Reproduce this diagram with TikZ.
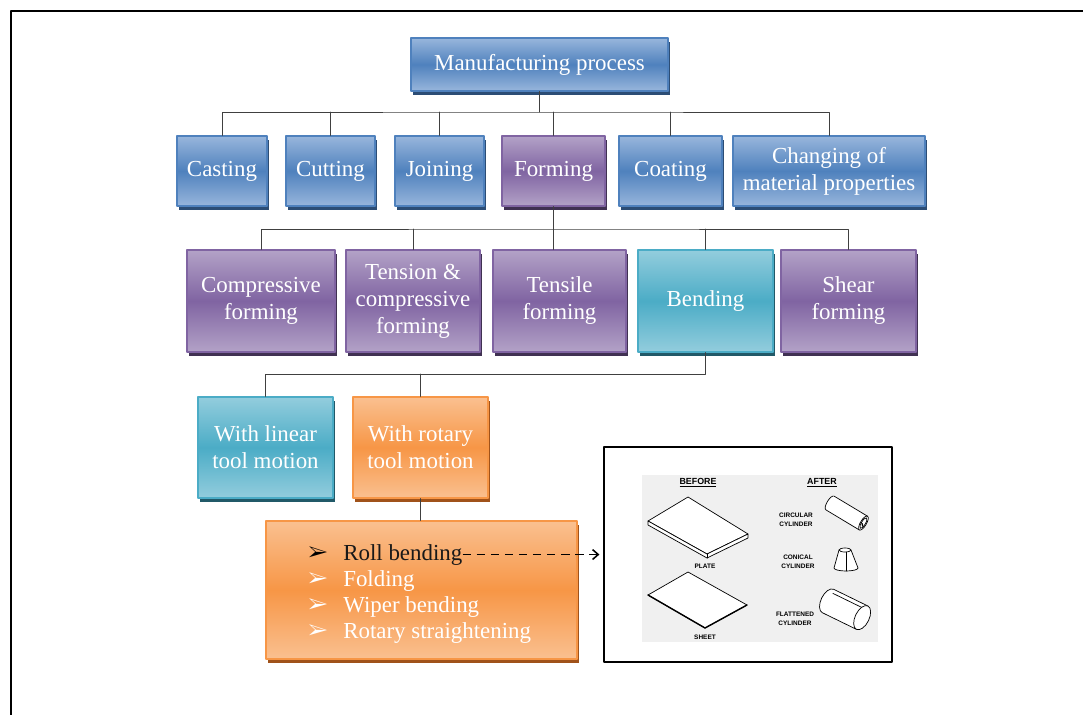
\documentclass[tikz,border=0pt]{standalone}
\usepackage{fontspec}
\setmainfont{Liberation Serif}
\setsansfont{Liberation Sans}
\usepackage{pifont}
\usetikzlibrary{arrows.meta}
\usetikzlibrary{shadows}

\definecolor{bluelt}{HTML}{98B6DC}
\definecolor{bluemd}{HTML}{4F81BD}
\definecolor{bluedk}{HTML}{2C4D75}
\definecolor{purplt}{HTML}{B3A2C7}
\definecolor{purpmd}{HTML}{8064A2}
\definecolor{purpdk}{HTML}{403152}
\definecolor{tealt}{HTML}{93CDDD}
\definecolor{teamd}{HTML}{4BACC6}
\definecolor{teadk}{HTML}{215968}
\definecolor{orglt}{HTML}{FAC090}
\definecolor{orgmd}{HTML}{F79646}
\definecolor{orgdk}{HTML}{A0521A}

\begin{document}
\begin{tikzpicture}[line cap=round,line join=round,x=0.025cm,y=-0.025cm,
  box/.style={rectangle,inner sep=0pt,align=center,text=white,line width=0.8pt,
    font=\fontsize{16.3}{19.2}\selectfont},
  bluebox/.style={box,draw=bluemd,top color=bluelt,bottom color=bluelt,middle color=bluemd,
    drop shadow={shadow xshift=0.05cm,shadow yshift=-0.1cm,opacity=1,fill=bluedk}},
  purpbox/.style={box,draw=purpmd,top color=purplt,bottom color=purplt,middle color=purpmd,
    drop shadow={shadow xshift=0.05cm,shadow yshift=-0.1cm,opacity=1,fill=purpdk}},
  teabox/.style={box,draw=teamd,top color=tealt,bottom color=tealt,middle color=teamd,
    drop shadow={shadow xshift=0.05cm,shadow yshift=-0.1cm,opacity=1,fill=teadk}},
  orgbox/.style={box,draw=orgmd,top color=orglt,bottom color=orglt,middle color=orgmd,
    drop shadow={shadow xshift=0.05cm,shadow yshift=-0.1cm,opacity=1,fill=orgdk}},
  link/.style={line width=0.6pt,color=black!75},
  item/.style={inner sep=0pt,anchor=base west,text=white,font=\fontsize{16.3}{19.2}\selectfont},
  tick/.style={inner sep=0pt,text=white,font=\fontsize{15}{15}\selectfont},
  lbl/.style={inner sep=0pt,align=center,font=\sffamily\bfseries\fontsize{4.6}{6.3}\selectfont},
  head/.style={inner sep=0pt,font=\sffamily\bfseries\fontsize{6.3}{7}\selectfont}]
\useasboundingbox (0,0) rectangle (1083,715);
% frame
\draw [line width=1.4pt,line cap=butt] (11,715) -- (11,11) -- (1083,11);

% top levels
\node [bluebox,minimum width=6.425cm,minimum height=1.325cm] (mp) at (539.5,64.5) {Manufacturing process};
\node [bluebox,minimum width=2.25cm,minimum height=1.75cm] (cast) at (222,171) {Casting};
\node [bluebox,minimum width=2.225cm,minimum height=1.75cm] (cut) at (330.5,171) {Cutting};
\node [bluebox,minimum width=2.225cm,minimum height=1.75cm] (join) at (439.5,171) {Joining};
\node [purpbox,minimum width=2.575cm,minimum height=1.75cm] (form) at (553.5,171) {Forming};
\node [bluebox,minimum width=2.575cm,minimum height=1.75cm] (coat) at (670.5,171) {Coating};
\node [bluebox,minimum width=4.8cm,minimum height=1.75cm] (chg) at (829,171) {Changing of\\material properties};

\node [purpbox,minimum width=3.7cm,minimum height=2.55cm] (comp) at (261,301) {Compressive\\forming};
\node [purpbox,minimum width=3.35cm,minimum height=2.55cm] (tens) at (413,301) {Tension \&\\compressive\\forming};
\node [purpbox,minimum width=3.325cm,minimum height=2.55cm] (tsl) at (559.5,301) {Tensile\\forming};
\node [teabox,minimum width=3.375cm,minimum height=2.55cm] (bend) at (705.5,301) {Bending};
\node [purpbox,minimum width=3.375cm,minimum height=2.55cm] (shear) at (848.5,301) {Shear\\forming};

\node [teabox,minimum width=3.375cm,minimum height=2.525cm] (lin) at (265.5,447.5) {With linear\\tool motion};
\node [orgbox,minimum width=3.375cm,minimum height=2.525cm] (rot) at (420.5,447.5) {With rotary\\tool motion};
\node [orgbox,minimum width=7.775cm,minimum height=3.45cm] (list) at (421.5,590) {};

% list of processes
\node [tick,text=black] (b1) at (318,553) {\ding{226}};
\node [tick] (b2) at (318,579) {\ding{226}};
\node [tick] (b3) at (318,605) {\ding{226}};
\node [tick] (b4) at (318,631) {\ding{226}};
\node [item,text=black!90] (roll) at (343,560) {Roll bending};
\node [item] (fold) at (343,586) {Folding};
\node [item] (wipe) at (343,612) {Wiper bending};
\node [item] (rotst) at (343,638) {Rotary straightening};

% connectors
\coordinate (bus1) at (540,112);
\coordinate (bus2) at (553,229);
\coordinate (bus3) at (705,374);
\draw [link] (mp.south) -- (mp.south |- bus1);
\draw [link] (cast.north) |- (bus1) -| (chg.north);
\draw [link] (cut.north) -- (cut.north |- bus1);
\draw [link] (join.north) -- (join.north |- bus1);
\draw [link] (form.north) -- (form.north |- bus1);
\draw [link] (coat.north) -- (coat.north |- bus1);
\draw [link] (form.south) -- (form.south |- tsl.north);
\draw [link] (comp.north) |- (bus2) -| (shear.north);
\draw [link] (tens.north) -- (tens.north |- bus2);
\draw [link] (bend.north) -- (bend.north |- bus2);
\draw [link] (bend.south) -- (bend.south |- bus3) -| (lin.north);
\draw [link] (rot.north) -- (rot.north |- bus3);
\draw [link] (rot.south) -- (rot.south |- list.north);

% picture of the bent parts
\node [draw=black,fill=white,line width=0.8pt,minimum width=7.2cm,minimum height=5.375cm] (inset) at (748,554.5) {};
\fill [black!6] (642,475) rectangle (878,642);
\draw [line width=0.9pt,line cap=butt,dash pattern=on 6pt off 4pt,-{Straight Barb[length=4pt,width=7pt,line width=1.1pt]},shorten >=0.1cm] (roll.east) -- (roll.east -| inset.west);

\node [head] (before) at (698,483) {\underline{BEFORE}};
\node [head] (after) at (822,483) {\underline{AFTER}};
\node [lbl] (plate) at (705,566) {PLATE};
\node [lbl] (sheet) at (705,637) {SHEET};
\node [lbl] (circ) at (796,520) {CIRCULAR\\CYLINDER};
\node [lbl] (coni) at (798,562) {CONICAL\\CYLINDER};
\node [lbl] (flat) at (795,619) {FLATTENED\\CYLINDER};

% plate and sheet
\draw [line width=0.5pt,fill=white] (648,521) -- (688,497) -- (748,534) -- (707,554) -- cycle;
\draw [line width=0.5pt,fill=white] (648,521) -- (707,554) -- (748,534) -- (748,538) -- (707,558) -- (648,525) -- cycle;
\draw [line width=0.5pt] (707,554) -- (707,558);
\draw [line width=0.5pt,fill=white] (648,595) -- (688,572) -- (747,605) -- (705,628) -- cycle;
\draw [line width=1pt] (648,595) -- (705,628) -- (747,605);

% circular cylinder
\begin{scope}[shift={(830,503)},rotate=-31,line width=0.5pt]
\draw [fill=white] (0,8) arc[start angle=90,end angle=270,x radius=3,y radius=8] -- (39,-8) -- (39,8) -- cycle;
\draw [fill=white] (39,0) ellipse [x radius=3,y radius=8];
\draw (39,0) ellipse [x radius=2,y radius=6];
\draw [line width=0.9pt] (38,1) -- (40,3);
\end{scope}

% conical cylinder
\draw [line width=0.5pt,fill=white] (839,550) -- (834,568) arc[start angle=180,end angle=0,x radius=12,y radius=3] -- (851,550);
\draw [line width=0.5pt,fill=white] (845,550) ellipse [x radius=6,y radius=2];
\draw [line width=0.5pt] (846,552) -- (846,571);

% flattened cylinder
\begin{scope}[shift={(828,601)},rotate=-26,line width=0.5pt]
\draw [fill=white] (0,13) arc[start angle=90,end angle=270,x radius=7,y radius=13] -- (38,-13) -- (38,13) -- cycle;
\draw (1,-9) -- (38,-9);
\draw [fill=white] (38,0) ellipse [x radius=7,y radius=13];
\end{scope}
\end{tikzpicture}
\end{document}
